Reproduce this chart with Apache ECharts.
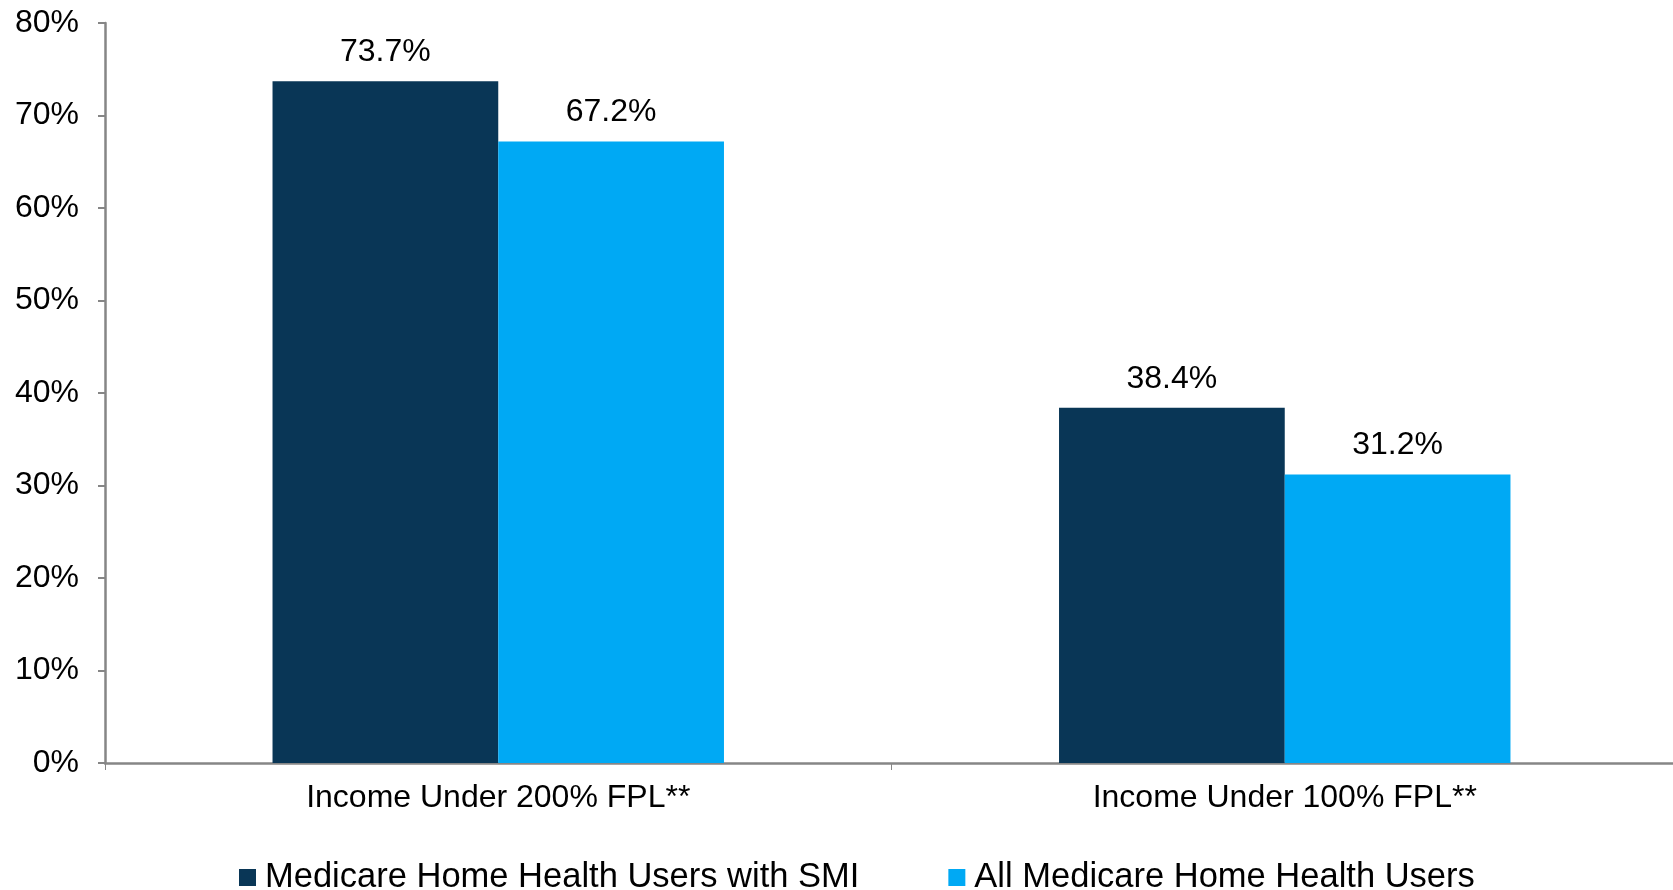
<!DOCTYPE html>
<html>
<head>
<meta charset="utf-8">
<script src="https://cdn.jsdelivr.net/npm/echarts@6/dist/echarts.min.js"></script>
<style>
  html, body { margin: 0; padding: 0; background: #fff; }
  #chart { width: 1673px; height: 890px; }
</style>
</head>
<body>
<div id="chart"></div>
<script>
// data
const categories = ['Income Under 200% FPL**', 'Income Under 100% FPL**'];
const smiUsers = [73.7, 38.4];
const allUsers = [67.2, 31.2];
const seriesNames = ['Medicare Home Health Users with SMI', 'All Medicare Home Health Users'];
const yTicks = { min: 0, max: 80, interval: 10 };

const font = '"Liberation Sans", Arial, sans-serif';
const axisGray = '#868686';

const labelStyle = {
  show: true,
  position: 'top',
  distance: 13,
  color: '#000',
  fontSize: 32,
  fontFamily: font,
  formatter: p => p.value.toFixed(1) + '%'
};

const option = {
  animation: false,
  textStyle: { fontFamily: font },
  grid: { left: 105, width: 1573, top: 23, bottom: 127, outerBoundsMode: 'none' },
  legend: {
    top: 855,
    left: 234,
    icon: 'rect',
    itemWidth: 17,
    itemHeight: 17,
    itemGap: 89,
    textStyle: { fontSize: 34.5, color: '#000', fontFamily: font, padding: [0, 0, 0, 4] },
    data: seriesNames
  },
  xAxis: {
    type: 'category',
    data: categories,
    axisLine: { lineStyle: { color: axisGray, width: 2.5 } },
    axisTick: { show: true, length: 7, lineStyle: { color: axisGray, width: 1 } },
    axisLabel: { fontSize: 32, color: '#000', margin: 19, fontFamily: font }
  },
  yAxis: {
    type: 'value',
    min: yTicks.min,
    max: yTicks.max,
    interval: yTicks.interval,
    splitLine: { show: false },
    axisLine: { show: true, lineStyle: { color: axisGray, width: 2.5 } },
    axisTick: { show: true, length: 7, lineStyle: { color: axisGray, width: 2 } },
    axisLabel: { fontSize: 32, color: '#000', margin: 26, fontFamily: font, formatter: '{value}%' }
  },
  series: [
    {
      name: seriesNames[0],
      type: 'bar',
      data: smiUsers,
      barGap: '0%',
      barCategoryGap: '42.6%',
      itemStyle: { color: '#093656' },
      label: labelStyle
    },
    {
      name: seriesNames[1],
      type: 'bar',
      data: allUsers,
      itemStyle: { color: '#00A9F4' },
      label: labelStyle
    }
  ]
};

let myChart = echarts.init(document.getElementById('chart'));
myChart.setOption(option);
</script>
</body>
</html>
